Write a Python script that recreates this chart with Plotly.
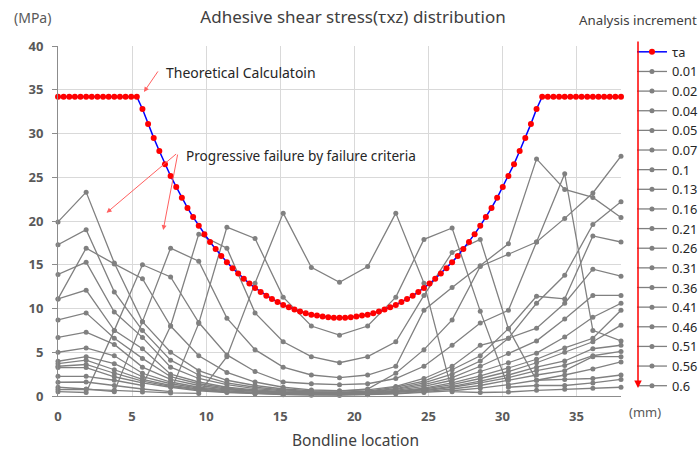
import plotly.graph_objects as go

# Bondline positions (mm) of the progressive-failure results
x_pos = [0, 1.9, 3.8, 5.7, 7.6, 9.5, 11.4, 13.3, 15.2, 17.1, 19.0,
         20.9, 22.8, 24.7, 26.6, 28.5, 30.4, 32.3, 34.2, 36.1, 38.0]

# Theoretical calculation positions and values
tau_x = [round(i * 0.38, 2) for i in range(101)]
tau_a = [34.2] * 15 + [
    32.8, 31.1, 29.5, 28.0, 26.5, 25.15, 23.9, 22.65, 21.5, 20.45, 19.45, 18.5,
    17.6, 16.8, 16.0, 15.3, 14.6, 14.0, 13.4, 12.85, 12.35, 11.9, 11.45, 11.1,
    10.75, 10.4, 10.15, 9.9, 9.65, 9.45, 9.3, 9.2, 9.1, 9.0, 8.95, 8.95,
    8.95, 9.0, 9.1, 9.2, 9.3, 9.45, 9.65, 9.9, 10.15, 10.4, 10.75, 11.1,
    11.45, 11.9, 12.35, 12.85, 13.4, 14.0, 14.6, 15.3, 16.0, 16.8, 17.6, 18.5,
    19.45, 20.45, 21.5, 22.65, 23.9, 25.15, 26.5, 28.0, 29.5, 31.1, 32.8,
] + [34.2] * 15

increments = ["0.01", "0.02", "0.04", "0.05", "0.07", "0.1", "0.13", "0.16", "0.21",
              "0.26", "0.31", "0.36", "0.41", "0.46", "0.51", "0.56", "0.6"]

s_001 = [3.25, 3.25, 2.2, 1.5, 1.0, 0.6, 0.4, 0.25, 0.15, 0.1, 0.1,
         0.15, 0.25, 0.4, 0.6, 0.9, 1.3, 1.8, 2.4, 3.1, 3.9]
s_002 = [3.4, 3.6, 2.6, 1.7, 1.1, 0.7, 0.45, 0.3, 0.2, 0.15, 0.1,
         0.2, 0.3, 0.5, 0.8, 1.2, 1.8, 2.4, 2.9, 4.5, 4.5]
s_004 = [3.7, 4.1, 3.0, 1.9, 1.2, 0.8, 0.5, 0.35, 0.25, 0.2, 0.15,
         0.25, 0.4, 0.6, 1.0, 1.5, 2.1, 2.9, 3.5, 4.6, 5.1]
s_005 = [3.97, 4.5, 3.7, 2.2, 1.4, 0.9, 0.6, 0.4, 0.3, 0.2, 0.15,
         0.3, 0.45, 0.7, 1.1, 1.7, 2.4, 3.3, 4.0, 5.4, 5.8]
s_007 = [5.0, 5.5, 4.6, 2.6, 1.6, 1.0, 0.7, 0.5, 0.35, 0.25, 0.2,
         0.3, 0.5, 0.8, 1.3, 2.0, 2.8, 3.8, 5.0, 6.2, 8.1]
s_010 = [6.7, 7.3, 5.9, 3.3, 1.9, 1.2, 0.8, 0.55, 0.4, 0.3, 0.25,
         0.35, 0.55, 0.9, 1.5, 2.3, 3.2, 4.2, 5.5, 6.6, 9.8]
s_013 = [8.7, 9.5, 6.6, 4.3, 2.2, 1.4, 0.9, 0.6, 0.45, 0.35, 0.3,
         0.4, 0.65, 1.1, 1.8, 2.8, 3.8, 4.9, 6.75, 9.0, 10.6]
s_016 = [11.1, 12.1, 7.5, 5.4, 2.5, 1.6, 1.0, 0.7, 0.5, 0.4, 0.35,
         0.45, 0.75, 1.3, 2.1, 3.4, 4.85, 6.3, 8.8, 11.5, 11.5]
s_021 = [13.9, 15.3, 9.6, 6.7, 3.3, 2.0, 1.3, 0.85, 0.6, 0.45, 0.4,
         0.5, 0.85, 1.5, 2.5, 4.0, 6.6, 7.75, 10.6, 14.5, 13.7]
s_026 = [17.3, 19.0, 11.9, 7.5, 4.1, 2.4, 1.5, 1.0, 0.7, 0.5, 0.45,
         0.55, 1.0, 1.7, 3.0, 4.6, 7.7, 11.4, 11.1, 18.3, 17.6]
s_031 = [19.9, 23.3, 15.2, 8.5, 5.0, 2.9, 1.8, 1.2, 0.8, 0.6, 0.55,
         0.8, 2.6, 5.3, 8.7, 14.8, 16.2, 17.6, 20.3, 23.2, 27.4]
s_036 = [11.1, 16.9, 15.1, 13.4, 8.0, 4.6, 2.7, 1.6, 1.0, 0.7, 0.6,
         0.7, 1.1, 2.0, 3.4, 5.8, 6.6, 10.6, 13.8, 19.6, 22.2]
s_041 = [0.5, 0.4, 7.5, 15.0, 13.6, 8.4, 4.7, 2.8, 1.6, 1.4, 1.3,
         1.4, 2.0, 3.4, 5.8, 8.35, 9.8, 17.6, 25.4, 7.5, 6.3]
s_046 = [1.0, 0.8, 0.5, 8.5, 16.9, 15.4, 8.9, 5.3, 3.3, 2.4, 2.1,
         2.4, 3.4, 9.8, 12.4, 14.9, 17.4, 27.1, 23.6, 22.7, 20.4]
s_051 = [2.25, 2.25, 1.8, 1.2, 8.0, 18.5, 16.9, 9.5, 6.2, 4.5, 3.8,
         4.5, 6.2, 11.5, 16.4, 17.9, 7.7, 1.8, 1.9, 2.0, 2.4]
s_056 = [1.57, 1.6, 1.2, 0.8, 0.5, 8.3, 19.3, 18.0, 11.3, 8.0, 6.95,
         8.0, 11.3, 17.9, 19.2, 9.7, 1.0, 1.2, 1.2, 1.5, 1.9]
s_060 = [0.73, 0.75, 0.65, 0.46, 0.35, 0.3, 4.5, 12.9, 20.9, 14.7, 13.0,
         14.8, 20.9, 12.9, 0.5, 0.4, 0.46, 0.65, 0.77, 0.9, 1.0]

series = [s_001, s_002, s_004, s_005, s_007, s_010, s_013, s_016, s_021,
          s_026, s_031, s_036, s_041, s_046, s_051, s_056, s_060]

x_ticks = [0, 5, 10, 15, 20, 25, 30, 35]
y_ticks = [0, 5, 10, 15, 20, 25, 30, 35, 40]

W, H = 700, 452

GRAY = "#808080"
fig = go.Figure()
for i, (lab, vals) in enumerate(zip(increments, series)):
    fig.add_trace(go.Scatter(
        x=x_pos, y=vals, name=lab, mode="lines+markers",
        line=dict(color=GRAY, width=1.3),
        marker=dict(color=GRAY, size=5),
        cliponaxis=False, legendrank=10 + i,
    ))
fig.add_trace(go.Scatter(
    x=tau_x, y=tau_a, name="τa", mode="lines+markers",
    line=dict(color="#0000ff", width=1.5),
    marker=dict(color="#ff0000", size=6),
    cliponaxis=False, legendrank=1,
))

tick_font = dict(size=13, color="#595959", weight="bold")
fig.update_layout(
    width=W, height=H,
    margin=dict(l=58, r=79, t=46, b=56, autoexpand=False),
    plot_bgcolor="white", paper_bgcolor="white",
    font=dict(family="Noto Sans", color="#404040"),
    title=dict(text="Adhesive shear stress(τxz) distribution", x=353 / W, xref="container",
               y=1 - 17 / H, yref="container", xanchor="center", yanchor="middle",
               font=dict(size=17, color="#404040")),
    legend=dict(x=1.0195, xanchor="left", yref="container", y=1 - 37 / H, yanchor="top",
                font=dict(size=12.8, color="#262626"), itemwidth=30, maxheight=420,
                bgcolor="rgba(0,0,0,0)", tracegroupgap=0),
    xaxis=dict(range=[0, 38], tickvals=x_ticks, showgrid=True, gridcolor="#d9d9d9",
               showline=True, linecolor="#8c8c8c", zeroline=False, tickfont=tick_font,
               ticks="", ticklabelstandoff=8),
    yaxis=dict(range=[0, 40], tickvals=y_ticks, showgrid=True, gridcolor="#d9d9d9",
               showline=True, linecolor="#8c8c8c", zeroline=False, tickfont=tick_font,
               ticks="outside", ticklen=5, tickcolor="#8c8c8c", ticklabelstandoff=6),
)

def label(text, px, py, size, color, anchor="center"):
    """Text placed by page pixel position (converted to paper coordinates)."""
    return dict(text=text, xref="paper", yref="paper",
                x=(px - 58) / 563, y=(396 - py) / 350,
                xanchor=anchor, yanchor="middle", showarrow=False,
                font=dict(size=size, color=color))

ann = [
    label("(MPa)", 32, 18, 14, "#595959"),
    label("(mm)", 645, 412, 13, "#595959"),
    label("Bondline location", 355, 440, 15.5, "#404040"),
    label("Analysis increment", 699, 20, 13.3, "#404040", anchor="right"),
    label("Theoretical Calculatoin", 164, 72, 14, "#262626", anchor="left"),
    label("Progressive failure by failure criteria", 184, 155, 13.6, "#262626", anchor="left"),
    dict(text="", x=5.8, y=34.75, ax=15, ay=-22, showarrow=True, arrowhead=2,
         arrowsize=1, arrowwidth=1, arrowcolor="#ff6060", standoff=0),
    dict(text="", x=3.28, y=20.94, ax=71, ay=-60, showarrow=True, arrowhead=2,
         arrowsize=1, arrowwidth=1, arrowcolor="#ff6060", standoff=0),
    dict(text="", x=7.1, y=18.96, ax=14.7, ay=-77, showarrow=True, arrowhead=2,
         arrowsize=1, arrowwidth=1, arrowcolor="#ff6060", standoff=0),
    dict(text="", xref="paper", yref="paper", x=(638 - 58) / 563, y=(396 - 388) / 350,
         ax=0, ay=-348, showarrow=True, arrowhead=2, arrowsize=1, arrowwidth=1.5,
         arrowcolor="#ff0000", standoff=0),
]
fig.update_layout(annotations=ann)

fig.write_html(
    "out.html",
    config={"displayModeBar": False},
    post_script="document.body.style.margin='0px';document.body.style.overflow='hidden';",
)
